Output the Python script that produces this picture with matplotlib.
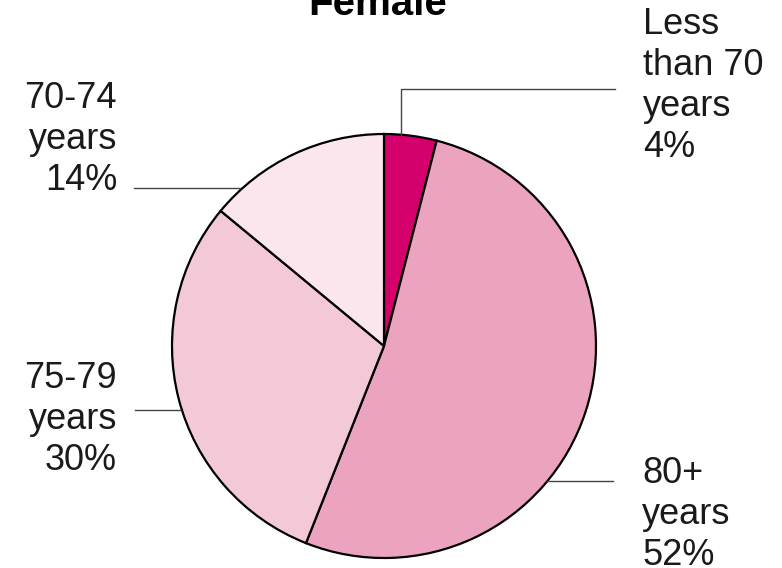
import matplotlib.pyplot as plt

# age groups, clockwise from 12 o'clock
groups = ["Less\nthan 70\nyears", "80+\nyears", "75-79\nyears", "70-74\nyears"]
shares = [4, 52, 30, 14]
colors = ["#d4006b", "#eca3bf", "#f3c9d8", "#fce6ed"]

W, H = 782, 568
CX, CY, R = 384, 346, 212


def py(y):
    # pixel row (top-down) -> data y (bottom-up)
    return H - y


fig = plt.figure(figsize=(W / 100, H / 100), dpi=100)
ax = fig.add_axes([0, 0, 1, 1])

ax.pie(shares, colors=colors, startangle=90, counterclock=False,
       center=(CX, py(CY)), radius=R, frame=True,
       wedgeprops=dict(edgecolor="black", linewidth=1.6))
ax.set_xlim(0, W)
ax.set_ylim(0, H)
ax.set_aspect("equal")
ax.axis("off")

font = dict(family="Liberation Sans", fontsize=26, color="#1a1a1a",
            linespacing=1.225)
labels = [f"{g}\n{s}%" for g, s in zip(groups, shares)]

# leader lines
lc = dict(color="#444444", linewidth=1.0)
ax.plot([401, 401, 615], [py(137), py(89), py(89)], **lc)
ax.plot([547, 613], [py(481), py(481)], **lc)
ax.plot([135, 180], [py(410), py(410)], **lc)
ax.plot([134, 240], [py(188), py(188)], **lc)

# baseline alignment uses the last line of each label
ax.text(643, py(157), labels[0], ha="left", va="baseline", **font)
ax.text(642, py(565), labels[1], ha="left", va="baseline", **font)
ax.text(117, py(470), labels[2], ha="right", va="baseline",
        multialignment="right", **font)
ax.text(117, py(190), labels[3], ha="right", va="baseline",
        multialignment="right", **font)

ax.text(378, py(15), "Female", ha="center", va="baseline",
        family="Liberation Sans", fontsize=29, fontweight="bold")

fig.savefig("out.png", dpi=100)
